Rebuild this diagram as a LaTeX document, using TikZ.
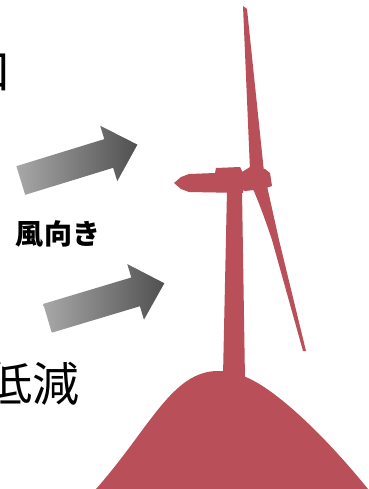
\documentclass[tikz,border=0pt]{standalone}
\usepackage{fontspec}
\newfontfamily\jpfont{Noto Sans CJK JP}
\usetikzlibrary{positioning}
\definecolor{turbinered}{RGB}{185,79,88}
\definecolor{windlight}{RGB}{168,168,168}
\definecolor{winddark}{RGB}{80,80,80}
\tikzset{
x=1pt, y=-1pt, % one unit is one pixel, y runs downwards
turbine/.style={fill=turbinered, draw=none}, % tower, blades and hill
windarrow/.style={left color=windlight, right color=winddark, draw=none}, % shaded wind arrows
bigtext/.style={font=\jpfont\fontsize{47}{50}\selectfont, inner sep=0pt}, % text at the side
}

\begin{document}
\begin{tikzpicture}
    \clip (0,0) rectangle (368,489);
    \fill[white] (0,0) rectangle (368,489);

    % text at the left edge
    \node[bigtext, anchor=east] (top) at (12,73) {口};
    \node[bigtext, anchor=west] (low) at (-15,384) {低減};
    \node[font=\jpfont\bfseries\fontsize{28}{30}\selectfont, inner sep=0pt] (wind) at (58,234) {風向き};

    % wind arrows
    \begin{scope}[shift={(20.8,180.5)}, rotate=17.1]
        \path[windarrow] (0,-15) -- (92,-15) -- (92,-29) -- (122,0) -- (92,29) -- (92,15) -- (0,15) -- cycle;
    \end{scope}
    \begin{scope}[shift={(47.5,318.3)}, rotate=16.7]
        \path[windarrow] (0,-15) -- (92,-15) -- (92,-29) -- (122,0) -- (92,29) -- (92,15) -- (0,15) -- cycle;
    \end{scope}

    % hill
    \path[turbine] (96,489) .. controls (150,428) and (172,371) .. (218,371)
        .. controls (232,371) and (240,374) .. (248,378)
        .. controls (275,390) and (320,430) .. (368,489) -- cycle;
    % tower
    \path[turbine] (227,190) -- (242,190) -- (245,380) -- (223,376) -- cycle;
    % nacelle
    \path[turbine] (174,183) -- (181,177) -- (189,174) -- (215,173) -- (216,168) -- (240,167)
        -- (243,173) -- (243,193) -- (189,192) -- (181,189) -- cycle;
    % hub
    \path[turbine] (242,172) -- (250,167) -- (265,169) -- (270,173) -- (272,186)
        -- (266,188) -- (254,190) -- (245,191) -- (242,190) -- cycle;
    % blades
    \path[turbine] (243,6) -- (247,9) -- (264,172) -- (250,170) -- cycle;
    \path[turbine] (253,189) .. controls (262,210) and (268,228) .. (272,240) -- (303,351)
        -- (306,351) -- (279,240) -- (267,186) -- cycle;
\end{tikzpicture}
\end{document}
